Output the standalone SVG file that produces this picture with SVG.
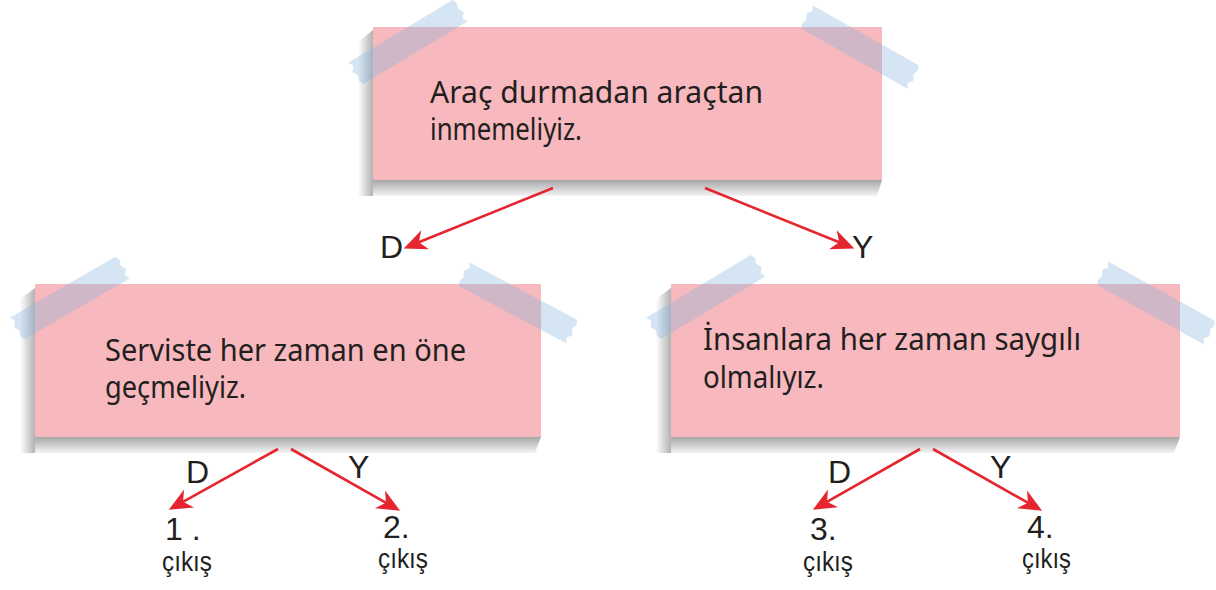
<svg xmlns="http://www.w3.org/2000/svg" xmlns:xlink="http://www.w3.org/1999/xlink" width="1216" height="590" viewBox="0 0 1216 590">
<style>
.card{fill:#f8b9be}
.shl{fill:url(#shL)}
.shb{fill:url(#shB)}
.tape{fill:#87b5dc;fill-opacity:0.35}
.body{font-family:"Noto Sans","Liberation Sans",sans-serif;font-size:30px;fill:#231f20}
.lbl{font-family:"Liberation Sans","Noto Sans",sans-serif;font-size:32px;fill:#231f20}
.exit{font-family:"Liberation Sans","Noto Sans",sans-serif;font-size:28px;fill:#231f20}
.arrow{stroke:#e52630;stroke-width:2.6;fill:none;marker-end:url(#ah)}
</style>
<defs>
<linearGradient id="shL" x1="0" y1="0" x2="1" y2="0">
<stop offset="0" stop-color="#ffffff"/>
<stop offset="1" stop-color="#b2b2b2"/>
</linearGradient>
<linearGradient id="shB" x1="0" y1="0" x2="0" y2="1">
<stop offset="0" stop-color="#a6a6a6"/>
<stop offset="1" stop-color="#f4f4f4"/>
</linearGradient>
<polygon id="tape" points="-62,-13 -59,-8 -63,-3 -60,3 -62,8 -60,13 62,13 59,8 63,3 60,-3 62,-8 60,-13"/>
<marker id="ah" markerUnits="userSpaceOnUse" markerWidth="30" markerHeight="30" viewBox="-10 -10 22 20" refX="0" refY="0" orient="auto">
<path d="M10,0 L-7,-7.5 L-2,0 L-7,7.5 Z" fill="#e52630"/>
</marker>
</defs>
<rect width="1216" height="590" fill="#ffffff"/>

<g id="node-top">
<polygon class="shl" points="373,30 358,42 358,196 373,196"/>
<polygon class="shb" points="373,180 882,180 877,196 373,196"/>
<rect class="card" x="373" y="27" width="509" height="153"/>
<use href="#tape" class="tape" transform="translate(408,42) rotate(-31)"/>
<use href="#tape" class="tape" transform="translate(860,47) rotate(29.5)"/>
<text class="body" x="430" y="103" textLength="333" lengthAdjust="spacingAndGlyphs">Araç durmadan araçtan</text>
<text class="body" x="430" y="140" textLength="152" lengthAdjust="spacingAndGlyphs">inmemeliyiz.</text>
</g>

<g id="node-left">
<polygon class="shl" points="35,288 20,299 20,453 35,453"/>
<polygon class="shb" points="35,437 541,437 535,453 35,453"/>
<rect class="card" x="35" y="284" width="506" height="153"/>
<use href="#tape" class="tape" transform="translate(70,298) rotate(-30)"/>
<use href="#tape" class="tape" transform="translate(518,303) rotate(28)"/>
<text class="body" x="105" y="361" textLength="361" lengthAdjust="spacingAndGlyphs">Serviste her zaman en öne</text>
<text class="body" x="105" y="398" textLength="141" lengthAdjust="spacingAndGlyphs">geçmeliyiz.</text>
</g>

<g id="node-right">
<polygon class="shl" points="671,288 656,299 656,453 671,453"/>
<polygon class="shb" points="671,437 1180,437 1174,453 671,453"/>
<rect class="card" x="671" y="284" width="509" height="153"/>
<use href="#tape" class="tape" transform="translate(706,297) rotate(-31)"/>
<use href="#tape" class="tape" transform="translate(1156,303) rotate(29)"/>
<text class="body" x="703" y="350" textLength="378" lengthAdjust="spacingAndGlyphs">İnsanlara her zaman saygılı</text>
<text class="body" x="703" y="388" textLength="121" lengthAdjust="spacingAndGlyphs">olmalıyız.</text>
</g>

<g id="exit-1">
<text class="lbl" x="165" y="540">1 .</text>
<text class="exit" x="162" y="571" textLength="50" lengthAdjust="spacingAndGlyphs">çıkış</text>
</g>
<g id="exit-2">
<text class="lbl" x="383" y="538">2.</text>
<text class="exit" x="378" y="568" textLength="50" lengthAdjust="spacingAndGlyphs">çıkış</text>
</g>
<g id="exit-3">
<text class="lbl" x="810" y="540">3.</text>
<text class="exit" x="803" y="571" textLength="50" lengthAdjust="spacingAndGlyphs">çıkış</text>
</g>
<g id="exit-4">
<text class="lbl" x="1027" y="538">4.</text>
<text class="exit" x="1022" y="568" textLength="49" lengthAdjust="spacingAndGlyphs">çıkış</text>
</g>

<g id="connectors">
<line class="arrow" x1="553" y1="188" x2="416.3" y2="243.3"/>
<line class="arrow" x1="705" y1="188" x2="841.7" y2="243.3"/>
<line class="arrow" x1="278" y1="449" x2="180.7" y2="503.1"/>
<line class="arrow" x1="291" y1="449" x2="388.3" y2="504.1"/>
<line class="arrow" x1="920" y1="449" x2="824.7" y2="503.1"/>
<line class="arrow" x1="933" y1="449" x2="1030.3" y2="504.1"/>
<text class="lbl" x="380" y="258">D</text>
<text class="lbl" x="852" y="258">Y</text>
<text class="lbl" x="186" y="483">D</text>
<text class="lbl" x="348" y="478">Y</text>
<text class="lbl" x="828" y="483">D</text>
<text class="lbl" x="990" y="478">Y</text>
</g>
</svg>
